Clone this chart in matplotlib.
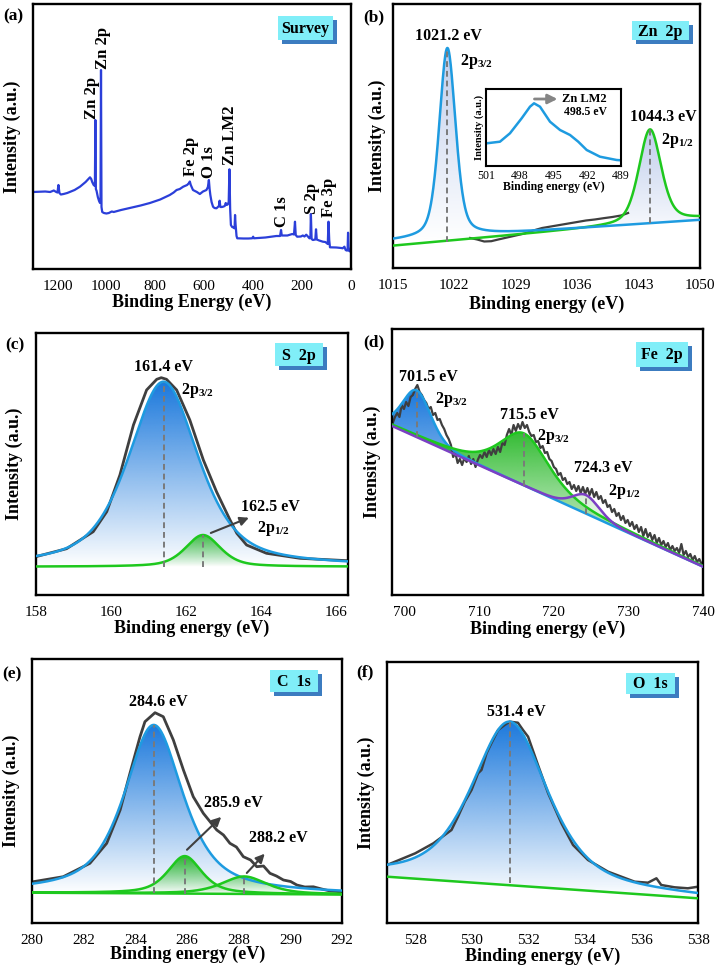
import numpy as np
import matplotlib
matplotlib.use("Agg")
import matplotlib.pyplot as plt
from matplotlib.colors import to_rgb
from matplotlib.patches import Rectangle

plt.rcParams['font.family'] = ['Liberation Serif', 'DejaVu Serif']
plt.rcParams['mathtext.fontset'] = 'custom'
plt.rcParams['mathtext.rm'] = 'Liberation Serif:bold'
plt.rcParams['mathtext.bf'] = 'Liberation Serif:bold'
plt.rcParams['mathtext.default'] = 'bf'

# ---------------- data (intensity in arbitrary units) ----------------
# (a) survey
survey_e = [1300, 1250, 1230, 1215, 1205, 1200, 1196, 1192, 1186, 1175, 1160, 1130, 1108, 1085,
            1067, 1062, 1058, 1052, 1047, 1045, 1043, 1040, 1035, 1030, 1026, 1024, 1022, 1020,
            1017, 1010, 1000, 990, 978, 970, 940, 904, 860, 822, 780, 741, 725, 713, 700, 686,
            670, 662, 659, 655, 646, 630, 618, 605, 591, 585, 581, 578, 575, 570, 564, 558, 550,
            540, 537, 534, 528, 523, 516, 512, 509, 504, 500, 497, 494, 491, 486, 481, 476, 474,
            472, 468, 465, 440, 420, 404, 400, 397, 350, 305, 290, 286, 283, 260, 240, 233, 229,
            226, 220, 205, 197, 190, 183, 178, 170, 166, 164, 161, 156, 146, 143, 140, 130, 115,
            105, 95, 92, 89, 86, 60, 40, 34, 27, 22, 18, 14, 12, 10, 7, 3, 0]
survey_i = [77, 77.5, 77, 78.5, 77, 76.5, 84, 76, 74.5, 75, 76, 79, 82.3, 87,
            91.7, 90, 87, 84, 83, 149, 80, 78, 72, 68, 66, 70, 199, 62,
            57, 56, 55.5, 56, 57.5, 57, 59, 61, 63.5, 66, 69.5, 74, 76.5, 79, 80, 82.3,
            84, 86, 87.5, 84, 79, 77, 75, 77.5, 79, 82, 89, 80, 74, 67, 62.3, 61, 60.7,
            63, 68.3, 62, 62, 62.3, 63, 66, 64, 64.5, 67, 99.7, 60, 44, 42, 41.5, 40.7, 54,
            45, 33, 30.7, 30.5, 30.5, 30.7, 32.3, 30.7, 31.5, 33, 33, 39, 33.5, 33.5, 35, 34.5, 47.3,
            34, 32.3, 32.5, 33.5, 32.5, 34.3, 33, 30.7, 31, 55, 30, 29, 29.5, 39.7, 29.5, 28.5, 27.3,
            27, 25, 47.3, 29, 21.7, 21.5, 21, 20.7, 22.3, 19, 18.5, 18.5, 36.3, 22, 18, 17.5, 17]
survey_labels = ["Zn 2p", "Zn 2p", "Fe 2p", "O 1s", "Zn LM2", "C 1s", "S 2p", "Fe 3p"]

# (b) Zn 2p
zn_center = [1021.2, 1044.3]
zn_height = [189.2, 93.5]
zn_fwhm = [2.2, 3.0]
zn_eta = [0.4, 0.4]
zn_base_e = [1015, 1050]
zn_base_blue = [27.1, 48.1]
zn_base_green = [22.3, 49.6]
zn_raw_e = [1023.8, 1024.6, 1025.4, 1026.2, 1027.0, 1028.0, 1029.0, 1030.0, 1031.0, 1032.0,
            1033.0, 1034.0, 1035.0, 1036.0, 1037.0, 1038.0, 1039.0, 1040.0, 1041.0, 1041.8]
zn_raw_i = [30.0, 28.5, 26.5, 26.8, 28.5, 30.5, 32.5, 34.5, 37.5, 40.0,
            41.5, 43.0, 44.5, 46.0, 47.5, 48.5, 49.8, 51.0, 52.5, 55.0]
# inset Zn LMM
lmm_e = [500.94, 499.76, 498.87, 497.83, 497.09, 496.73, 496.2, 495.31, 494.42, 493.53,
         492.8, 492.05, 490.87, 489.39, 489.0]
lmm_i = [22.4, 24, 32.4, 47.4, 59, 62.4, 59, 44, 35.7, 30.7, 24, 15.7, 9, 5.7, 5.4]

# (c) S 2p
s_center = [161.4, 162.45]
s_height = [185, 31.7]
s_fwhm = [2.2, 1.1]
s_eta = [0.6, 0.5]
s_base = 28.3
s_raw_e = [158.0, 158.82, 159.53, 159.89, 160.24, 160.6, 160.95, 161.22, 161.34, 161.48,
           161.75, 162.1, 162.46, 162.81, 163.17, 163.35, 163.61, 164.14, 165.03, 166.3]
s_raw_i = [38.3, 46.3, 63.3, 83.3, 120, 170, 205, 215.7, 217.3, 215.7,
           205, 175, 135, 103.3, 75, 61.7, 50, 41.7, 36.7, 34.3]

# (d) Fe 2p
fe_center = [701.6, 716.0, 724.3]
fe_height = [46.8, 52.3, 18.7]
fe_fwhm = [4.5, 8.0, 4.3]
fe_eta = [0.3, 0.6, 0.3]
fe_base_e = [698.3, 740.0]
fe_base_i = [169.0, 28.3]
fe_raw_i = [172, 178, 182, 178, 190, 186, 193, 189, 198, 200,
            206, 210, 203, 200, 195, 192, 186, 188, 180, 182,
            175, 176, 170, 166, 160, 156, 150, 138, 142, 132,
            136, 130, 137, 133, 139, 131, 136, 128, 135, 140,
            137, 143, 138, 145, 140, 146, 141, 148, 143, 152,
            150, 160, 166, 160, 170, 164, 171, 166, 173, 167,
            170, 163, 159, 160, 153, 154, 147, 149, 142, 143,
            136, 134, 128, 126, 120, 122, 115, 117, 111, 113,
            106, 110, 104, 109, 102, 108, 101, 107, 100, 106,
            98, 103, 96, 99, 92, 95, 88, 90, 83, 86,
            79, 82, 75, 79, 72, 75, 69, 73, 66, 70,
            63, 68, 59, 66, 58, 62, 55, 60, 52, 57,
            50, 54, 48, 52, 45, 49, 44, 47, 42, 51,
            40, 44, 38, 41, 35, 39, 33, 36, 31, 34]
fe_raw_e = np.linspace(698.4, 740.1, len(fe_raw_i))

# (e) C 1s
c_center = [284.7, 285.9, 288.2]
c_height = [168.5, 37.5, 17.5]
c_fwhm = [2.7, 1.55, 2.06]
c_eta = [0.7, 0.6, 0.6]
c_base_e = [280, 292]
c_base_i = [30.3, 28.5]
c_raw_e = [280.04, 281.2, 282.23, 282.88, 283.4, 283.78, 284.17, 284.36, 284.75, 285.07, 285.46,
           285.85, 286.23, 286.62, 287.14, 287.4, 287.65, 287.9, 288.17, 288.45, 288.69, 288.95,
           289.2, 289.45, 289.72, 290.0, 290.24, 290.55, 290.88, 291.2, 291.53, 291.8, 292.0]
c_raw_i = [41.3, 46.3, 59.7, 79.7, 113, 149.7, 186.3, 201.3, 210.3, 206.3, 183,
           153, 126.3, 109.7, 93, 88, 79.7, 76, 66.3, 63, 56.3, 57,
           49.7, 47, 43, 41.5, 38, 36, 36.2, 34, 32, 31.5, 30.7]

# (f) O 1s
o_center = [531.34]
o_height = [163.6]
o_fwhm = [3.18]
o_eta = [0.6]
o_base_e = [527, 538]
o_base_i = [46.3, 24.7]
o_raw_e = [527.0, 528.0, 528.64, 529.28, 529.51, 529.75, 529.99, 530.22, 530.34, 530.52, 530.69,
           530.93, 531.16, 531.34, 531.63, 531.81, 531.99, 532.34, 532.7, 533.17, 533.58, 534.11,
           534.82, 535.76, 536.23, 536.53, 536.7, 537.17, 537.64, 538.0]
o_raw_i = [58, 69.7, 79.7, 93, 106.3, 121.3, 133, 149.7, 153, 169.7, 179.7,
           193, 198, 201.3, 200.3, 193, 186.3, 158, 129.7, 99.7, 78, 63,
           51.3, 41.3, 40.3, 44.7, 38, 35.7, 34.7, 36.3]

# ---------------- layout ----------------
W, H = 719, 969
BLUE_LINE = '#1e9be0'
BLUE_FILL = '#1a78dc'
GREEN_LINE = '#1ec81e'
GREEN_FILL = '#28b828'
PURPLE = '#7b40c4'
GRAY = '#3f3f3f'

fig = plt.figure(figsize=(W / 100, H / 100), dpi=100)


def make_ax(l, t, r, b):
    return fig.add_axes([l / W, 1 - b / H, (r - l) / W, (b - t) / H])


def ftext(x, y, s, **kw):
    kw.setdefault('ha', 'center')
    kw.setdefault('va', 'center')
    kw.setdefault('fontweight', 'bold')
    return fig.text(x / W, 1 - y / H, s, **kw)


def title_box(x0, y0, x1, y1, s):
    fig.add_artist(Rectangle(((x0 + 4) / W, 1 - (y1 + 4) / H), (x1 - x0) / W, (y1 - y0) / H,
                             transform=fig.transFigure, fc='#3c7cc0', ec='none', zorder=5))
    fig.add_artist(Rectangle((x0 / W, 1 - y1 / H), (x1 - x0) / W, (y1 - y0) / H,
                             transform=fig.transFigure, fc='#80eef8', ec='none', zorder=6))
    ftext((x0 + x1) / 2, (y0 + y1) / 2 + 1, s, fontsize=11.5, zorder=7)


def style(ax, xlim, ylim, ticks, xlab_y, ylab_x):
    ax.set_xlim(*xlim)
    ax.set_ylim(*ylim)
    ax.set_xticks(ticks)
    ax.set_yticks([])
    ax.tick_params(axis='x', length=0, pad=8, labelsize=11)
    for sp in ax.spines.values():
        sp.set_linewidth(1.7)
    ax.set_xlabel('Binding energy (eV)', fontsize=13, fontweight='bold')
    ax.set_ylabel('Intensity (a.u.)', fontsize=13, fontweight='bold')
    ax.xaxis.set_label_coords(0.5, xlab_y)
    ax.yaxis.set_label_coords(ylab_x, 0.5)


def pv(x, c, h, w, eta):
    g = np.exp(-4 * np.log(2) * ((x - c) / w) ** 2)
    lz = 1 / (1 + 4 * ((x - c) / w) ** 2)
    return h * (eta * lz + (1 - eta) * g)


def grad_fill(ax, x, top, bot, color, amax=1.0, z=1):
    poly = ax.fill_between(x, bot, top, facecolor='none', edgecolor='none', zorder=z)
    lo, hi = np.min(bot), np.max(top)
    img = np.zeros((256, 1, 4))
    img[..., :3] = to_rgb(color)
    img[..., 3] = np.linspace(0, amax, 256)[:, None]
    im = ax.imshow(img, extent=[x[0], x[-1], lo, hi], origin='lower', aspect='auto',
                   zorder=z, interpolation='bilinear')
    im.set_clip_path(poly.get_paths()[0], transform=ax.transData)


def dash(ax, x, y0, y1):
    ax.plot([x, x], [y0, y1], ls=(0, (3, 2)), color='#7a7a7a', lw=1.4, zorder=4)


# ---- (a) survey ----
ax = make_ax(33, 4, 351, 269)
ax.plot(survey_e, survey_i, color='#2b3fd9', lw=1.6)
style(ax, (1300, 0), (0, 265), [1200, 1000, 800, 600, 400, 200, 0], -0.094, -0.038)
ax.set_xlabel('Binding Energy (eV)', fontsize=13, fontweight='bold')
for s, (x, y) in zip(survey_labels, [(91.7, 98), (103.3, 48.3), (191, 156.7), (209, 162.5),
                                     (230, 135.5), (282.5, 211.7), (312.5, 198.3), (329, 197.5)]):
    ftext(x, y, s, fontsize=12, rotation=90)
title_box(278, 16, 333, 40, 'Survey')
ftext(13, 16.5, '(a)', fontsize=12.5)

# ---- (b) Zn 2p ----
ax = make_ax(393, 4, 700, 268)
x = np.linspace(1015, 1050, 900)
bb = np.interp(x, zn_base_e, zn_base_blue)
bg = np.interp(x, zn_base_e, zn_base_green)
p1 = pv(x, zn_center[0], zn_height[0], zn_fwhm[0], zn_eta[0])
p2 = pv(x, zn_center[1], zn_height[1], zn_fwhm[1], zn_eta[1])
grad_fill(ax, x, bb + p1, bb, '#8aa4dc', amax=0.55)
grad_fill(ax, x, bg + p2, bb, '#8aa4dc', amax=0.55)
ax.plot(zn_raw_e, zn_raw_i, color=GRAY, lw=1.6, zorder=2)
ax.plot(x, bg + p2, color=GREEN_LINE, lw=1.8, zorder=3)
ax.plot(x, bb + p1, color=BLUE_LINE, lw=1.8, zorder=3)
dash(ax, zn_center[0], 26.3, zn_base_blue[0] + 3.7 + zn_height[0])
dash(ax, zn_center[1], 44.7, 45.2 + zn_height[1])
style(ax, (1015, 1050), (0, 264), [1015, 1022, 1029, 1036, 1043, 1050], -0.106, -0.022)
ftext(448, 36, '1021.2 eV', fontsize=11.5)
ftext(476, 61.7, r'2p$_{3/2}$', fontsize=11.5)
ftext(663, 117, '1044.3 eV', fontsize=11.5)
ftext(677, 140, r'2p$_{1/2}$', fontsize=11.5)
title_box(632, 21, 689, 40, 'Zn  2p')
ftext(374, 17.5, '(b)', fontsize=12.5)

# inset
ai = make_ax(486, 89.3, 621, 165.7)
ai.set_zorder(3)
ai.plot(lmm_e, lmm_i, color=BLUE_LINE, lw=1.8)
ai.set_xlim(501, 489)
ai.set_ylim(0, 76.4)
ai.set_xticks([501, 498, 495, 492, 489])
ai.set_yticks([])
ai.tick_params(axis='x', length=0, pad=3, labelsize=8.5)
for sp in ai.spines.values():
    sp.set_linewidth(1.5)
ai.set_xlabel('Binding energy (eV)', fontsize=8.5, fontweight='bold')
ai.set_ylabel('Intensity (a.u.)', fontsize=7.5, fontweight='bold')
ai.xaxis.set_label_coords(0.5, -0.2)
ai.yaxis.set_label_coords(-0.015, 0.5)
ai.annotate('', xy=(494.4, 66.7), xytext=(496.94, 66.7),
            arrowprops=dict(arrowstyle='-|>', color='#858585', lw=2, mutation_scale=14))
ftext(584, 99, 'Zn LM2', fontsize=9, zorder=8)
ftext(585, 111.7, '498.5 eV', fontsize=8.5, zorder=8)

# ---- (c) S 2p ----
ax = make_ax(35.7, 333, 347.7, 595)
x = np.linspace(158, 166.4, 800)
p1 = pv(x, s_center[0], s_height[0], s_fwhm[0], s_eta[0])
p2 = pv(x, s_center[1], s_height[1], s_fwhm[1], s_eta[1])
base = np.full_like(x, s_base)
grad_fill(ax, x, base + p1, base, BLUE_FILL)
grad_fill(ax, x, base + p2, base, GREEN_FILL, amax=0.85)
ax.plot(s_raw_e, s_raw_i, color=GRAY, lw=2.0, zorder=2)
ax.plot(x, base + p1, color=BLUE_LINE, lw=1.8, zorder=3)
ax.plot(x, base + p2, color=GREEN_LINE, lw=1.8, zorder=3)
dash(ax, s_center[0], s_base, s_base + s_height[0])
dash(ax, s_center[1], s_base, s_base + s_height[1])
ax.annotate('', xy=(163.74, 78.3), xytext=(162.59, 61),
            arrowprops=dict(arrowstyle='-|>', color='#404040', lw=1.5, mutation_scale=13), zorder=5)
style(ax, (158, 166.3), (0, 262), [158, 160, 162, 164, 166], -0.093, -0.041)
ftext(163, 366.7, '161.4 eV', fontsize=11.5)
ftext(197, 390, r'2p$_{3/2}$', fontsize=11.5)
ftext(270, 506.7, '162.5 eV', fontsize=11.5)
ftext(273, 528.3, r'2p$_{1/2}$', fontsize=11.5)
title_box(275, 343, 323, 366, 'S  2p')
ftext(15, 345, '(c)', fontsize=12.5)

# ---- (d) Fe 2p ----
ax = make_ax(392, 329, 703, 595)
x = np.linspace(698.3, 740, 900)
base = np.interp(x, fe_base_e, fe_base_i)
comps = [pv(x, c, h, w, e) for c, h, w, e in zip(fe_center, fe_height, fe_fwhm, fe_eta)]
grad_fill(ax, x, base + comps[0], base, BLUE_FILL)
grad_fill(ax, x, base + comps[1], base, GREEN_FILL)
grad_fill(ax, x, base + comps[2], base, '#7fd07f', amax=0.6)
ax.plot(fe_raw_e, fe_raw_i, color=GRAY, lw=1.6, zorder=2)
ax.plot(x, base + comps[0], color=BLUE_LINE, lw=1.8, zorder=3)
ax.plot(x, base + comps[1], color=GREEN_LINE, lw=1.8, zorder=3)
ax.plot(x, base + comps[2], color=PURPLE, lw=1.8, zorder=3)
for c, h in zip(fe_center, fe_height):
    b0 = np.interp(c, fe_base_e, fe_base_i)
    dash(ax, c, b0, b0 + h)
style(ax, (698.3, 740), (0, 266), [700, 710, 720, 730, 740], -0.098, -0.034)
ftext(428.3, 376.7, '701.5 eV', fontsize=11.5)
ftext(451.7, 399.3, r'2p$_{3/2}$', fontsize=11.5)
ftext(529.2, 415, '715.5 eV', fontsize=11.5)
ftext(553.8, 436.7, r'2p$_{3/2}$', fontsize=11.5)
ftext(603.3, 468.3, '724.3 eV', fontsize=11.5)
ftext(624, 491.7, r'2p$_{1/2}$', fontsize=11.5)
title_box(636, 342, 688, 366.7, 'Fe  2p')
ftext(373.5, 342.5, '(d)', fontsize=12.5)

# ---- (e) C 1s ----
ax = make_ax(32.3, 659, 342.3, 923)
x = np.linspace(280, 292, 900)
base = np.interp(x, c_base_e, c_base_i)
comps = [pv(x, c, h, w, e) for c, h, w, e in zip(c_center, c_height, c_fwhm, c_eta)]
grad_fill(ax, x, base + comps[0], base, BLUE_FILL)
grad_fill(ax, x, base + comps[1], base, GREEN_FILL)
grad_fill(ax, x, base + comps[2], base, GREEN_FILL, amax=0.6)
ax.plot(c_raw_e, c_raw_i, color=GRAY, lw=2.0, zorder=2)
ax.plot(x, base, color=GREEN_LINE, lw=1.8, zorder=3)
ax.plot(x, base + comps[0], color=BLUE_LINE, lw=1.8, zorder=3)
ax.plot(x, base + comps[1], color=GREEN_LINE, lw=1.8, zorder=3)
ax.plot(x, base + comps[2], color=GREEN_LINE, lw=1.8, zorder=3)
for c, h in zip(c_center, c_height):
    b0 = np.interp(c, c_base_e, c_base_i)
    dash(ax, c, b0, b0 + h)
ax.annotate('', xy=(287.39, 108), xytext=(285.91, 71.3),
            arrowprops=dict(arrowstyle='-|>', color='#404040', lw=1.5, mutation_scale=13), zorder=5)
ax.annotate('', xy=(289.07, 71.3), xytext=(288.23, 48),
            arrowprops=dict(arrowstyle='-|>', color='#404040', lw=1.5, mutation_scale=13), zorder=5)
style(ax, (280, 292), (0, 264), [280, 282, 284, 286, 288, 290, 292], -0.087, -0.041)
ftext(158.3, 701.7, '284.6 eV', fontsize=11.5)
ftext(233.3, 803.3, '285.9 eV', fontsize=11.5)
ftext(278.3, 838.3, '288.2 eV', fontsize=11.5)
title_box(270, 670, 318, 691.7, 'C  1s')
ftext(12, 674, '(e)', fontsize=12.5)

# ---- (f) O 1s ----
ax = make_ax(387, 662, 698, 923)
x = np.linspace(527, 538, 900)
base = np.interp(x, o_base_e, o_base_i)
p1 = pv(x, o_center[0], o_height[0], o_fwhm[0], o_eta[0])
grad_fill(ax, x, base + p1, base, BLUE_FILL)
ax.plot(o_raw_e, o_raw_i, color=GRAY, lw=1.8, zorder=2)
ax.plot(x, base, color=GREEN_LINE, lw=1.8, zorder=3)
ax.plot(x, base + p1, color=BLUE_LINE, lw=1.8, zorder=3)
dash(ax, o_center[0], np.interp(o_center[0], o_base_e, o_base_i) + 2, o_height[0] + 37.7)
style(ax, (527, 538), (0, 261), [528, 530, 532, 534, 536, 538], -0.095, -0.040)
ftext(516.7, 711.7, '531.4 eV', fontsize=11.5)
title_box(626, 673, 675, 694, 'O  1s')
ftext(365, 672.5, '(f)', fontsize=12.5)

fig.savefig('out.png', dpi=100)
